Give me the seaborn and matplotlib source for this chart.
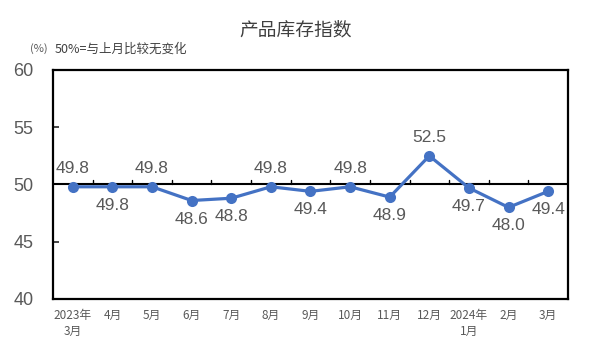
import pandas as pd
import matplotlib
matplotlib.use("Agg")
import matplotlib.pyplot as plt
import seaborn as sns

months = ["2023年\n3月", "4月", "5月", "6月", "7月", "8月", "9月", "10月",
          "11月", "12月", "2024年\n1月", "2月", "3月"]
index_values = [49.8, 49.8, 49.8, 48.6, 48.8, 49.8, 49.4, 49.8, 48.9, 52.5, 49.7, 48.0, 49.4]
label_above = [True, False, True, False, False, True, False, True, False, True, False, False, False]

sns.set_style("white")
plt.rcParams["font.family"] = ["Noto Sans CJK SC", "DejaVu Sans"]

df = pd.DataFrame({"pos": range(len(months)), "value": index_values})

gray = "#595959"
blue = "#4472C4"

fig = plt.figure(figsize=(5.91, 3.54), dpi=100)
ax = fig.add_axes([0.0897, 0.1554, 0.8713, 0.6469])

sns.lineplot(data=df, x="pos", y="value", ax=ax, color=blue, linewidth=2.3,
             marker="o", markersize=8, markeredgewidth=0, zorder=4)

# 50 reference line with small ticks between months
ax.axhline(50, color="black", linewidth=1.5, zorder=3)
for k in range(len(months) - 1):
    ax.plot([k + 0.5, k + 0.5], [50, 50.35], color="black", linewidth=1.0, zorder=3)

for i, v in enumerate(index_values):
    if label_above[i]:
        ax.annotate(f"{v:.1f}", (i, v), xytext=(0, 8), textcoords="offset points",
                    ha="center", va="bottom", fontsize=12.5, color=gray,
                    family=["Liberation Sans", "DejaVu Sans"])
    else:
        ax.annotate(f"{v:.1f}", (i, v), xytext=(0, -8), textcoords="offset points",
                    ha="center", va="top", fontsize=12.5, color=gray,
                    family=["Liberation Sans", "DejaVu Sans"])

ax.set_xlim(-0.5, len(months) - 0.5)
ax.set_ylim(40, 60)
ax.set_yticks([40, 45, 50, 55, 60])
ax.set_xticks(range(len(months)))
ax.set_xticklabels(months, fontsize=8.5, color=gray, linespacing=1.35)
for t in ax.get_yticklabels():
    t.set_fontsize(13)
    t.set_color(gray)
    t.set_family(["Liberation Sans", "DejaVu Sans"])
ax.tick_params(axis="y", direction="in", length=4, width=1.2, pad=14, left=True)
ax.tick_params(axis="x", length=0, pad=7)
ax.set_xlabel("")
ax.set_ylabel("")

for s in ax.spines.values():
    s.set_visible(True)
    s.set_color("black")
    s.set_linewidth(1.6)

fig.text(0.5, 0.915, "产品库存指数", ha="center", va="center", fontsize=13.5, color="#404040")
fig.text(0.051, 0.862, "(%)", ha="left", va="center", fontsize=8, color=gray)
fig.text(0.093, 0.862, "50%=与上月比较无变化", ha="left", va="center", fontsize=9, color="#404040")

fig.savefig("out.png", dpi=100)
